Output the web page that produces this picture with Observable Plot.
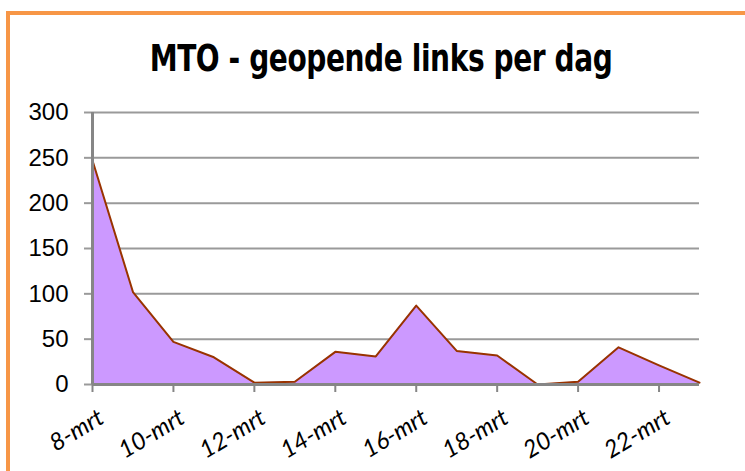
<!DOCTYPE html>
<html><head><meta charset="utf-8">
<script src="https://cdn.jsdelivr.net/npm/d3@7"></script>
<script src="https://cdn.jsdelivr.net/npm/@observablehq/plot@0.6"></script>
<style>
html,body{margin:0;padding:0;background:#fff;width:745px;height:471px;overflow:hidden;position:relative;}
#frame{position:absolute;left:6px;top:11px;width:800px;height:600px;border:4px solid #F79646;box-sizing:border-box;}
#title{position:absolute;left:0;top:39px;width:762px;text-align:center;font-family:"DejaVu Sans Condensed","DejaVu Sans",sans-serif;font-weight:bold;font-size:38px;line-height:38px;letter-spacing:-0.5px;color:#000;transform:scaleX(0.82);transform-origin:381px 0;}
#chart{position:absolute;left:0;top:95px;}
</style>
</head><body>
<div id="frame"></div>
<div id="title">MTO - geopende links per dag</div>
<div id="chart"></div>
<script>
const days = [8, 9, 10, 11, 12, 13, 14, 15, 16, 17, 18, 19, 20, 21, 22, 23];
const values = [247, 102, 47, 30, 2, 3, 36, 31, 87, 37, 32, 0, 3, 41, 21, 2];
const xTicks = [8, 10, 12, 14, 16, 18, 20, 22];
const yTicks = [0, 50, 100, 150, 200, 250, 300];
const monthLabel = "mrt";

const data = days.map((d, i) => ({day: d, value: values[i]}));

const chart = Plot.plot({
  width: 745,
  height: 376,
  marginTop: 17,
  marginBottom: 87,
  marginLeft: 92,
  marginRight: 46,
  style: {fontFamily: "'Liberation Sans', Arial, sans-serif", background: "transparent", color: "#000", overflow: "visible"},
  x: {domain: [8, 23], axis: null},
  y: {domain: [0, 300], axis: null},
  marks: [
    Plot.ruleY(yTicks.filter(t => t > 0), {stroke: "#9a9a9a", strokeWidth: 2, strokeOpacity: 1}),
    Plot.areaY(data, {x: "day", y: "value", fill: "#CC99FF"}),
    Plot.lineY(data, {x: "day", y: "value", stroke: "#993300", strokeWidth: 2}),
    Plot.axisY({ticks: yTicks, tickSize: 8, tickPadding: 16, fontSize: 24, stroke: "#9a9a9a", strokeWidth: 2, strokeOpacity: 1, label: null}),
    Plot.ruleX([8], {stroke: "#868686", strokeWidth: 3}),
    Plot.ruleY([0], {stroke: "#868686", strokeWidth: 3}),
    Plot.axisX({ticks: xTicks, tickSize: 8, stroke: "#868686", strokeWidth: 2, strokeOpacity: 1, label: null,
      tickFormat: () => ""}),
    Plot.text(xTicks, {x: d => d, y: 0, text: d => `${d}-${monthLabel}`, rotate: -31, textAnchor: "end", lineAnchor: "middle",
      dx: 9, dy: 31, fontSize: 24, fontStyle: "italic", fontFamily: "Lato, 'Open Sans', sans-serif", fill: "#000"})
  ]
});
document.getElementById("chart").appendChild(chart);
</script>
</body></html>
